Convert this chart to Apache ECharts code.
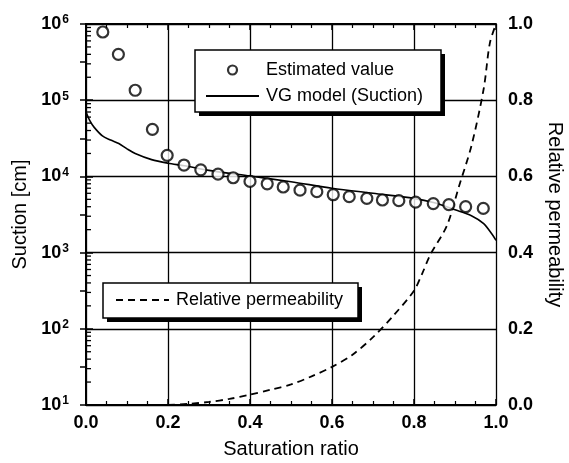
<!DOCTYPE html>
<html>
<head>
<meta charset="utf-8">
<script src="https://cdn.jsdelivr.net/npm/echarts@6/dist/echarts.min.js"></script>
<style>
  html, body { margin: 0; padding: 0; background: #fff; }
  #chart { width: 569px; height: 463px; }
</style>
</head>
<body>
<div id="chart"></div>
<script>
// Estimated suction values (saturation ratio, suction in cm)
const estSaturation = [0.041, 0.079, 0.120, 0.162, 0.198, 0.239, 0.280, 0.322, 0.359, 0.400, 0.442, 0.481,
                       0.522, 0.563, 0.603, 0.642, 0.685, 0.723, 0.763, 0.804, 0.847, 0.885, 0.926, 0.969];
const estSuction = [7.85e5, 4.0e5, 1.35e5, 4.15e4, 1.89e4, 1.41e4, 1.22e4, 1.07e4, 9.6e3, 8.6e3, 8.0e3, 7.26e3,
                    6.6e3, 6.3e3, 5.75e3, 5.42e3, 5.15e3, 4.9e3, 4.8e3, 4.6e3, 4.4e3, 4.26e3, 4.0e3, 3.8e3];

// van Genuchten model suction curve
const vgSaturation = [0.0, 0.01, 0.02, 0.04, 0.06, 0.08, 0.10, 0.12, 0.16, 0.20, 0.24, 0.30, 0.40, 0.50,
                      0.60, 0.70, 0.80, 0.85, 0.90, 0.94, 0.97, 0.99, 1.0];
const vgSuction = [7.0e4, 5.3e4, 4.4e4, 3.4e4, 3.0e4, 2.7e4, 2.3e4, 2.0e4, 1.66e4, 1.49e4, 1.38e4, 1.2e4,
                   1.01e4, 8.5e3, 7.0e3, 6.0e3, 5.15e3, 4.5e3, 3.65e3, 3.05e3, 2.4e3, 1.75e3, 1.45e3];

// Relative permeability curve
const krSaturation = [0.20, 0.25, 0.30, 0.35, 0.40, 0.45, 0.50, 0.55, 0.60, 0.65, 0.70, 0.75, 0.80,
                      0.82, 0.84, 0.88, 0.91, 0.94, 0.97, 0.985, 1.0];
const krValue = [0.0, 0.003, 0.008, 0.016, 0.027, 0.040, 0.054, 0.075, 0.100, 0.132, 0.178, 0.235, 0.300,
                 0.345, 0.395, 0.470, 0.575, 0.680, 0.830, 0.950, 1.0];

// Axis ranges
const suctionDecades = [10, 100, 1000, 10000, 100000, 1000000];

// Log-axis minor tick positions (2..9 within each decade)
const minorLogTicks = [];
for (let d = 0; d < suctionDecades.length - 1; d++) {
  for (let m = 2; m <= 9; m++) minorLogTicks.push([0, suctionDecades[d] * m]);
}

const FONT = '"Liberation Sans", Arial, Helvetica, sans-serif';
const BLACK = '#000';

const chart = echarts.init(document.getElementById('chart'), null, { renderer: 'canvas' });

const zip = (a, b) => a.map((v, i) => [v, b[i]]);

// Framed legend panel with a solid drop shadow
function legendPanel(x, y, w, h) {
  return [
    { type: 'rect', z: 6, silent: true, shape: { x: x + 4, y: y + 4, width: w, height: h },
      style: { fill: BLACK } },
    { type: 'rect', z: 6, silent: true, shape: { x: x, y: y, width: w, height: h },
      style: { fill: '#fff', stroke: BLACK, lineWidth: 1.5 } }
  ];
}

const legendText = { fontFamily: FONT, fontSize: 18, color: BLACK, padding: [0, 0, 0, 2] };

const option = {
  backgroundColor: '#fff',
  animation: false,
  textStyle: { fontFamily: FONT, color: BLACK },
  grid: { left: 86, top: 24, width: 410, height: 381, show: false, outerBoundsMode: 'none', containLabel: false },
  graphic: [].concat(legendPanel(195, 50, 246, 62), legendPanel(103, 283, 255, 35)),
  legend: [
    {
      orient: 'vertical',
      left: 195, top: 50, z: 8,
      padding: [11, 22, 9, 10],
      itemGap: 8,
      itemWidth: 53, itemHeight: 9,
      textStyle: legendText,
      data: [
        { name: 'Estimated value', icon: 'circle',
          itemStyle: { color: '#fff', borderColor: BLACK, borderWidth: 2.2 } },
        { name: 'VG model (Suction)', itemStyle: { opacity: 0 } }
      ]
    },
    {
      orient: 'vertical',
      left: 103, top: 283, z: 8,
      padding: [8, 13, 8, 12],
      itemWidth: 53, itemHeight: 9,
      textStyle: legendText,
      data: [{ name: 'Relative permeability', itemStyle: { opacity: 0 } }]
    }
  ],
  xAxis: [
    {
      type: 'value', min: 0, max: 1, interval: 0.2, position: 'bottom',
      name: 'Saturation ratio', nameLocation: 'middle', nameGap: 34,
      nameTextStyle: { fontFamily: FONT, fontSize: 20, color: BLACK },
      axisLine: { show: true, lineStyle: { color: BLACK, width: 2 } },
      axisTick: { show: true, inside: true, length: 6, lineStyle: { color: BLACK, width: 1.5 } },
      minorTick: { show: true, splitNumber: 4, length: 4, lineStyle: { color: BLACK, width: 1.2 } },
      splitLine: { show: true, lineStyle: { color: BLACK, width: 1.3 } },
      axisLabel: { margin: 9, fontSize: 18, fontWeight: 'bold', color: BLACK, fontFamily: FONT,
                   formatter: v => v.toFixed(1) }
    },
    {
      type: 'value', min: 0, max: 1, interval: 0.2, position: 'top',
      axisLine: { show: true, lineStyle: { color: BLACK, width: 2 } },
      axisTick: { show: true, inside: true, length: 6, lineStyle: { color: BLACK, width: 1.5 } },
      minorTick: { show: true, splitNumber: 4, length: 4, lineStyle: { color: BLACK, width: 1.2 } },
      splitLine: { show: false },
      axisLabel: { show: false }
    }
  ],
  yAxis: [
    {
      type: 'log', logBase: 10, min: 10, max: 1e6, position: 'left',
      name: 'Suction [cm]', nameLocation: 'middle', nameGap: 45,
      nameTextStyle: { fontFamily: FONT, fontSize: 20, color: BLACK },
      axisLine: { show: true, lineStyle: { color: BLACK, width: 2 } },
      axisTick: { show: true, inside: true, length: 7, lineStyle: { color: BLACK, width: 1.5 } },
      splitLine: { show: true, lineStyle: { color: BLACK, width: 1.3 } },
      axisLabel: {
        margin: 17, color: BLACK, fontFamily: FONT,
        formatter: v => '{b|10}{s|' + Math.round(Math.log10(v)) + '}',
        rich: {
          b: { fontSize: 18, fontWeight: 'bold', fontFamily: FONT, color: BLACK },
          s: { fontSize: 12, fontWeight: 'bold', fontFamily: FONT, color: BLACK, verticalAlign: 'top', padding: [0, 0, 8, 1] }
        }
      }
    },
    {
      type: 'value', min: 0, max: 1, interval: 0.2, position: 'right',
      name: 'Relative permeability', nameLocation: 'middle', nameGap: 49, nameRotate: -90,
      nameTextStyle: { fontFamily: FONT, fontSize: 20, color: BLACK },
      axisLine: { show: true, lineStyle: { color: BLACK, width: 2 } },
      axisTick: { show: true, inside: true, length: 6, lineStyle: { color: BLACK, width: 1.5 } },
      minorTick: { show: true, splitNumber: 2, length: 6, lineStyle: { color: BLACK, width: 1.5 } },
      splitLine: { show: false },
      axisLabel: { margin: 12, fontSize: 18, fontWeight: 'bold', color: BLACK, fontFamily: FONT,
                   formatter: v => v.toFixed(1) }
    }
  ],
  series: [
    {
      name: 'Log minor ticks',
      type: 'custom',
      xAxisIndex: 0, yAxisIndex: 0,
      silent: true,
      data: minorLogTicks,
      renderItem: (params, api) => {
        const p = api.coord([api.value(0), api.value(1)]);
        return {
          type: 'line',
          shape: { x1: p[0], y1: p[1], x2: p[0] + 5, y2: p[1] },
          style: { stroke: BLACK, lineWidth: 1.3 }
        };
      },
      z: 5
    },
    {
      name: 'VG model (Suction)',
      type: 'line',
      xAxisIndex: 0, yAxisIndex: 0,
      data: zip(vgSaturation, vgSuction),
      symbol: 'none',
      smooth: 0.3,
      lineStyle: { color: BLACK, width: 1.6 },
      itemStyle: { color: BLACK },
      z: 3
    },
    {
      name: 'Estimated value',
      type: 'scatter',
      xAxisIndex: 0, yAxisIndex: 0,
      data: zip(estSaturation, estSuction),
      symbol: 'circle',
      symbolSize: 11,
      itemStyle: { color: '#fff', borderColor: BLACK, borderWidth: 2.2 },
      z: 4
    },
    {
      name: 'Relative permeability',
      type: 'line',
      xAxisIndex: 0, yAxisIndex: 1,
      data: zip(krSaturation, krValue),
      symbol: 'none',
      smooth: 0.3,
      lineStyle: { color: BLACK, width: 1.8, type: [7, 5] },
      itemStyle: { color: BLACK },
      z: 3
    }
  ]
};

chart.setOption(option);
</script>
</body>
</html>
